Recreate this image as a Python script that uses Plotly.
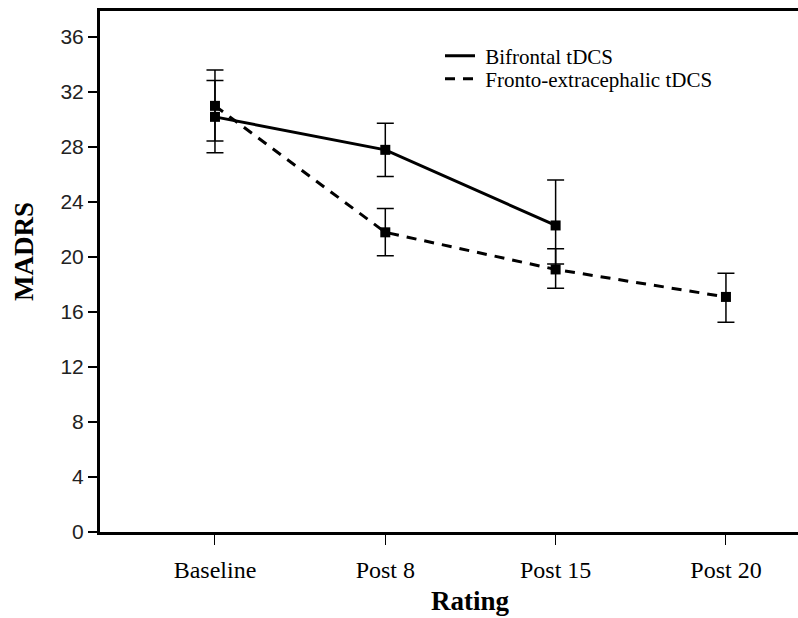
import plotly.graph_objects as go

categories = ["Baseline", "Post 8", "Post 15", "Post 20"]

bifrontal_mean = [30.2, 27.8, 22.3, None]
bifrontal_err_plus = [2.65, 1.94, 3.3, None]
bifrontal_err_minus = [2.62, 1.94, 2.8, None]

fronto_mean = [31.0, 21.8, 19.1, 17.1]
fronto_err_plus = [2.6, 1.74, 1.5, 1.72]
fronto_err_minus = [2.55, 1.7, 1.37, 1.84]

y_ticks = [0, 4, 8, 12, 16, 20, 24, 28, 32, 36]

series_names = ["\u00a0Bifrontal tDCS", "\u00a0Fronto-extracephalic tDCS"]

serif = "Liberation Serif, Times New Roman, serif"
sans = "Liberation Sans, Arial, sans-serif"

fig = go.Figure()

fig.add_trace(go.Scatter(
    x=categories, y=bifrontal_mean, mode="lines+markers",
    line=dict(color="black", width=3, dash="solid"),
    marker=dict(symbol="square", size=10, color="black"),
    error_y=dict(type="data", symmetric=False, array=bifrontal_err_plus,
                 arrayminus=bifrontal_err_minus, color="black", thickness=1.5, width=8.5),
    showlegend=False, connectgaps=False,
))
fig.add_trace(go.Scatter(
    x=categories, y=fronto_mean, mode="lines+markers",
    line=dict(color="black", width=3, dash="10px,8px"),
    marker=dict(symbol="square", size=10, color="black"),
    error_y=dict(type="data", symmetric=False, array=fronto_err_plus,
                 arrayminus=fronto_err_minus, color="black", thickness=1.5, width=8.5),
    showlegend=False,
))

# legend-only entries (lines without markers, as in the reference)
fig.add_trace(go.Scatter(
    x=[None], y=[None], mode="lines", name=series_names[0],
    line=dict(color="black", width=3, dash="solid"), legend="legend",
))
fig.add_trace(go.Scatter(
    x=[None], y=[None], mode="lines", name=series_names[1],
    line=dict(color="black", width=3, dash="10px,8px"), legend="legend2",
))

legend_common = dict(
    font=dict(family=serif, size=21, color="black"),
    bgcolor="rgba(0,0,0,0)", borderwidth=0,
    xanchor="left", yanchor="middle",
)

fig.update_layout(
    width=798, height=618,
    margin=dict(l=100, r=0, t=11, b=86),
    paper_bgcolor="white", plot_bgcolor="white",
    legend=dict(x=(440 - 100) / 698, y=(532 - 56) / 521, **legend_common),
    legend2=dict(x=(440 - 100) / 698, y=(532 - 79) / 521, **legend_common),
    xaxis=dict(
        type="category", categoryorder="array", categoryarray=categories,
        range=[-0.675, 3.423],
        showline=True, linecolor="black", linewidth=3, mirror=True,
        ticks="outside", ticklen=10, tickwidth=1, tickcolor="black",
        tickfont=dict(family=serif, size=24, color="black"),
        ticklabelstandoff=4,
        showgrid=False, zeroline=False,
    ),
    yaxis=dict(
        range=[0, 37.9], tickvals=y_ticks,
        showline=True, linecolor="black", linewidth=3, mirror=False,
        ticks="outside", ticklen=9, tickwidth=2, tickcolor="black",
        tickfont=dict(family=sans, size=21, color="#222"),
        showgrid=False, zeroline=False,
    ),
    annotations=[
        dict(text="<b>MADRS</b>", xref="paper", yref="paper",
             x=-(100 - 24) / 698, y=(532 - 252) / 521, textangle=-90,
             showarrow=False, xanchor="center", yanchor="middle",
             font=dict(family=serif, size=27, color="black")),
        dict(text="<b>Rating</b>", xref="paper", yref="paper",
             x=(470 - 100) / 698, y=-(601 - 532) / 521,
             showarrow=False, xanchor="center", yanchor="middle",
             font=dict(family=serif, size=27, color="black")),
    ],
)

fig.write_html("out.html")
